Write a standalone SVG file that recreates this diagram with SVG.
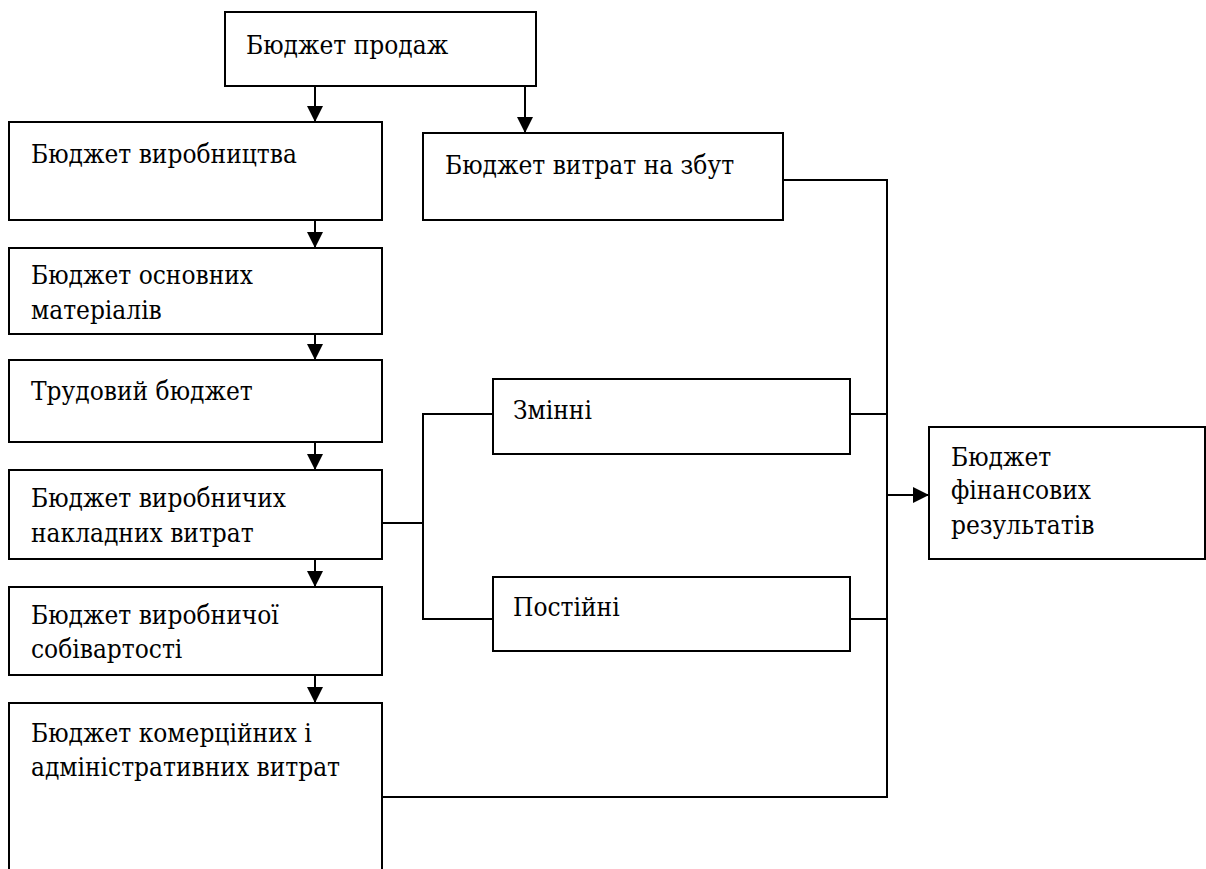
<svg xmlns="http://www.w3.org/2000/svg" width="1206" height="869" viewBox="0 0 1206 869">
<style>
.box{fill:#fff;stroke:#000;stroke-width:2}
.t{font-family:'DejaVu Serif',serif;font-stretch:condensed;font-size:26px;fill:#000}
.c{fill:none;stroke:#000;stroke-width:2}
</style>
<defs>
<marker id="ah" viewBox="0 0 16 16" refX="16" refY="8" markerWidth="16" markerHeight="16" markerUnits="userSpaceOnUse" orient="auto">
<path d="M0,0 L16,8 L0,16 Z" fill="#000"/>
</marker>
</defs>
<rect width="1206" height="869" fill="#fff"/>
<g id="connectors">
<line class="c" x1="315" y1="86" x2="315" y2="122" marker-end="url(#ah)"/>
<line class="c" x1="525" y1="86" x2="525" y2="133" marker-end="url(#ah)"/>
<line class="c" x1="315" y1="220" x2="315" y2="248" marker-end="url(#ah)"/>
<line class="c" x1="315" y1="334" x2="315" y2="360" marker-end="url(#ah)"/>
<line class="c" x1="315" y1="442" x2="315" y2="470" marker-end="url(#ah)"/>
<line class="c" x1="315" y1="559" x2="315" y2="587" marker-end="url(#ah)"/>
<line class="c" x1="315" y1="675" x2="315" y2="703" marker-end="url(#ah)"/>
<polyline class="c" points="382,523 423,523"/>
<polyline class="c" points="493,414 423,414 423,619 493,619"/>
<polyline class="c" points="783,180 887,180 887,797 382,797"/>
<line class="c" x1="850" y1="414" x2="887" y2="414"/>
<line class="c" x1="850" y1="619" x2="887" y2="619"/>
<line class="c" x1="887" y1="495" x2="929" y2="495" marker-end="url(#ah)"/>
</g>
<g id="n-prodazh"><rect class="box" x="225" y="12" width="311" height="74"/><text class="t" x="246" y="54">Бюджет продаж</text></g>
<g id="n-vyrobnytstva"><rect class="box" x="9" y="122" width="373" height="98"/><text class="t" x="31" y="163">Бюджет виробництва</text></g>
<g id="n-zbut"><rect class="box" x="423" y="133" width="360" height="87"/><text class="t" x="445" y="174">Бюджет витрат на збут</text></g>
<g id="n-materialy"><rect class="box" x="9" y="248" width="373" height="86"/><text class="t" x="31" y="284">Бюджет основних</text><text class="t" x="31" y="319">матеріалів</text></g>
<g id="n-trudovyi"><rect class="box" x="9" y="360" width="373" height="82"/><text class="t" x="31" y="400">Трудовий бюджет</text></g>
<g id="n-nakladni"><rect class="box" x="9" y="470" width="373" height="89"/><text class="t" x="31" y="507">Бюджет виробничих</text><text class="t" x="31" y="542">накладних витрат</text></g>
<g id="n-sobivartist"><rect class="box" x="9" y="587" width="373" height="88"/><text class="t" x="31" y="624">Бюджет виробничої</text><text class="t" x="31" y="658">собівартості</text></g>
<g id="n-komertsiini"><rect class="box" x="9" y="703" width="373" height="180"/><text class="t" x="31" y="742">Бюджет комерційних і</text><text class="t" x="31" y="776">адміністративних витрат</text></g>
<g id="n-zminni"><rect class="box" x="493" y="379" width="357" height="75"/><text class="t" x="513" y="419">Змінні</text></g>
<g id="n-postiini"><rect class="box" x="493" y="577" width="357" height="74"/><text class="t" x="513" y="616">Постійні</text></g>
<g id="n-finrez"><rect class="box" x="929" y="427" width="276" height="132"/><text class="t" x="951" y="466">Бюджет</text><text class="t" x="951" y="499">фінансових</text><text class="t" x="951" y="534">результатів</text></g>
</svg>
